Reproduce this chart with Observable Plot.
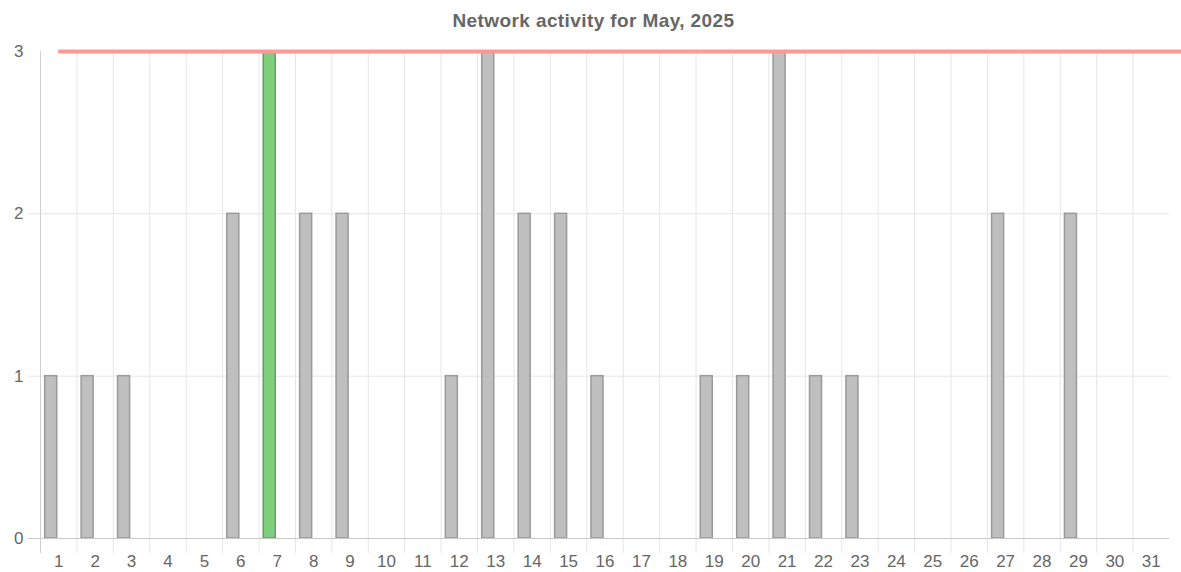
<!DOCTYPE html>
<html><head><meta charset="utf-8">
<script src="https://cdn.jsdelivr.net/npm/d3@7"></script>
<script src="https://cdn.jsdelivr.net/npm/@observablehq/plot@0.6"></script>
<style>
body{margin:0;background:#fff;font-family:"Liberation Sans",Arial,sans-serif;}
#title{height:40px;line-height:42px;text-align:center;font-weight:bold;font-size:19px;letter-spacing:0.4px;color:#666;padding-left:6px;}
</style></head><body>
<div id="title"></div>
<div id="chart"></div>
<script>
const title = "Network activity for May, 2025";
const days = [1,2,3,4,5,6,7,8,9,10,11,12,13,14,15,16,17,18,19,20,21,22,23,24,25,26,27,28,29,30,31];
const counts = [1,1,1,0,0,2,3,2,2,0,0,1,3,2,2,1,0,0,1,1,3,1,1,0,0,0,2,0,2,0,0];
const highlightDay = 7;
const limit = 3;
const yTicks = [0,1,2,3];

document.getElementById("title").textContent = title;
const data = days.map((d, i) => ({day: d, count: counts[i]}));
const W = 1181, H = 532, ml = 40, mr = 12, mt = 11, mb = 34;
const xMin = days[0] - 0.5, xMax = days[days.length - 1] + 0.5;

const chart = Plot.plot({
  width: W, height: H,
  marginLeft: ml, marginRight: mr, marginTop: mt, marginBottom: mb,
  style: {fontFamily: '"Liberation Sans", Arial, sans-serif', fontSize: "17px", color: "#666", background: "#fff", overflow: "visible"},
  x: {type: "linear", domain: [xMin, xMax]},
  y: {domain: [0, limit]},
  marks: [
    Plot.ruleY(yTicks.slice(1, -1), {stroke: "#e6e6e6", insetLeft: -12}),
    Plot.ruleX(days.slice(1), {x: d => d - 0.5, stroke: "#e6e6e6", insetBottom: -15}),
    Plot.rectY(data.filter(d => d.count > 0 && d.day !== highlightDay), {
      x1: d => d.day - 0.5, x2: d => d.day + 0.5, y: "count",
      insetLeft: 4.7, insetRight: 19.7, fill: "#bfbfbf", stroke: "#9a9a9a", strokeWidth: 1.5
    }),
    Plot.rectY(data.filter(d => d.count > 0 && d.day === highlightDay), {
      x1: d => d.day - 0.5, x2: d => d.day + 0.5, y: "count",
      insetLeft: 4.7, insetRight: 19.7, fill: "#7fcf7f", stroke: "#6a9a6a", strokeWidth: 1.5
    }),
    Plot.ruleY([0], {stroke: "#c8c8c8", insetLeft: -12}),
    Plot.ruleX([xMin], {stroke: "#d0d0d0", insetBottom: -15}),
    Plot.ruleY([limit], {x1: days[0], x2: xMax, stroke: "#ff9999", strokeWidth: 4, insetRight: -mr, clip: false}),
    Plot.axisX({ticks: days, tickSize: 0, tickPadding: 16, tickFormat: d => String(d), fontSize: 17, fill: "#666", label: null}),
    Plot.axisY({ticks: yTicks, tickSize: 0, tickPadding: 17, tickFormat: d => String(d), fontSize: 17, fill: "#666", label: null})
  ]
});
document.getElementById("chart").appendChild(chart);
</script>
</body></html>
